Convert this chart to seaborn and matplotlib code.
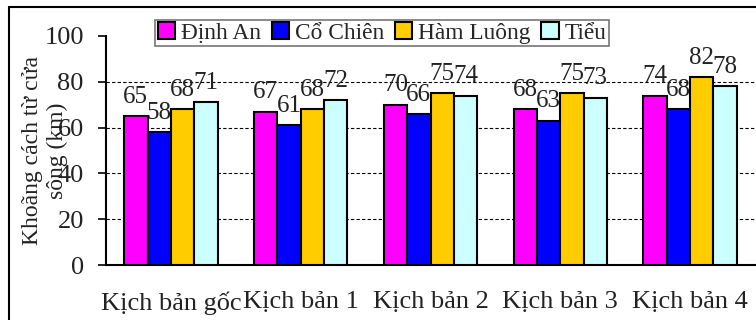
import matplotlib
matplotlib.use("Agg")
import matplotlib.pyplot as plt
from matplotlib.lines import Line2D
import seaborn as sns
import pandas as pd

scenarios = ["Kịch bản gốc", "Kịch bản 1", "Kịch bản 2", "Kịch bản 3", "Kịch bản 4"]
rivers = ["Định An", "Cổ Chiên", "Hàm Luông", "Tiểu"]
dinh_an = [65, 67, 70, 68, 74]
co_chien = [58, 61, 66, 63, 68]
ham_luong = [68, 68, 75, 75, 82]
tieu = [71, 72, 74, 73, 78]
colors = ["#FF00FF", "#0000FF", "#FFCC00", "#CCFFFF"]

df = pd.DataFrame({
    "scenario": scenarios * 4,
    "river": [r for r in rivers for _ in scenarios],
    "value": dinh_an + co_chien + ham_luong + tieu,
})

sns.set_theme(style="white")
plt.rcParams["font.family"] = ["Liberation Serif", "DejaVu Serif"]

fig = plt.figure(figsize=(7.56, 3.2), dpi=100)
ax = fig.add_axes([106 / 756, 1 - 265 / 320, 649 / 756, 229 / 320])

sns.barplot(data=df, x="scenario", y="value", hue="river", order=scenarios,
            hue_order=rivers, palette=colors, saturation=1, width=0.72,
            edgecolor="black", linewidth=1.5, ax=ax, zorder=3)

for cont in ax.containers:
    ax.bar_label(cont, fmt="%d", padding=6, fontsize=18, color="#222222")

ax.set_ylim(0, 100)
ax.set_yticks([0, 20, 40, 60, 80, 100])
ax.set_xlim(-0.5, len(scenarios) - 0.5)
ax.set_xlabel("")
ax.set_ylabel("Khoãng cách từ cửa\nsông (km)", fontsize=17, color="#222222",
              linespacing=1.25)
ax.yaxis.set_label_coords(-0.058, 0.5)

for yv in [20, 40, 60, 80]:
    ax.axhline(yv, color="black", lw=0.8, ls=(0, (3, 2)), zorder=1)

for side in ["top", "right"]:
    ax.spines[side].set_visible(False)
for side in ["left", "bottom"]:
    ax.spines[side].set_color("black")
    ax.spines[side].set_linewidth(1.5)

ax.set_xticks(range(len(scenarios)))
ax.set_xticklabels(scenarios)
ax.tick_params(axis="x", length=0, labelsize=19, pad=19, colors="#222222")
ax.set_xticks([i - 0.5 for i in range(len(scenarios) + 1)], minor=True)
ax.tick_params(axis="x", which="minor", length=7, width=1.2, color="black",
               direction="out")
ax.tick_params(axis="y", length=6, width=1.2, color="black", direction="out",
               labelsize=19, labelcolor="#222222", left=True, pad=10)

leg = ax.legend(loc="upper center", bbox_to_anchor=(276 / 649, 1.07), ncol=4,
                frameon=True, fontsize=16.8, handlelength=0.75, handleheight=0.75,
                handletextpad=0.25, columnspacing=0.45, borderpad=0.1,
                fancybox=False, borderaxespad=0)
leg.get_frame().set_edgecolor("#555555")
leg.get_frame().set_linewidth(1.2)
for h in leg.legend_handles:
    h.set_edgecolor("black")
    h.set_linewidth(1.5)

# outer frame of the chart area
fig.add_artist(Line2D([9 / 756, 9 / 756], [0, 1 - 7 / 320], color="black",
                      lw=1.5, transform=fig.transFigure))
fig.add_artist(Line2D([9 / 756, 1], [1 - 7 / 320, 1 - 7 / 320], color="black",
                      lw=1.5, transform=fig.transFigure))

fig.savefig("out.png", dpi=100)
